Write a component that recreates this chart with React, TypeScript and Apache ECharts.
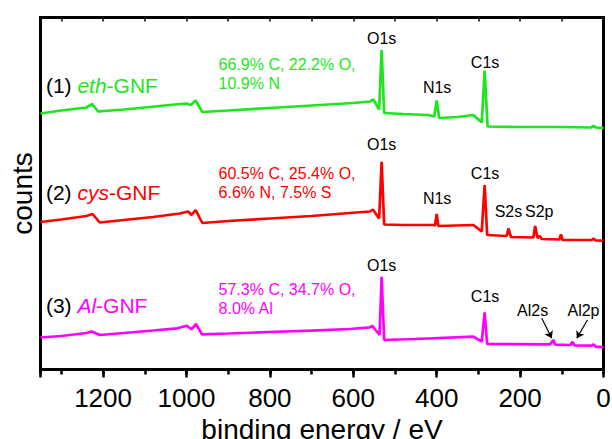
import React, { useEffect, useRef } from "react";
import * as echarts from "echarts";

// ---- data (binding energy in eV, counts in arbitrary offset units) ----
const ethBE = [1350, 1300, 1240, 1226, 1212, 1150, 1100, 1040, 1000, 990, 978, 962, 900, 800, 700, 600, 560, 552, 538, 532, 526, 480, 420, 406, 400, 394, 350, 312, 292, 285, 278, 200, 100, 30, 24, 18, 0];
const ethCounts = [256, 259, 262, 265.5, 258, 260, 262, 264.5, 266, 264.5, 269, 257.5, 259, 261.5, 264, 266.5, 268, 270, 260, 319.5, 256.5, 255.5, 254.5, 253, 269, 251.5, 252.5, 254.5, 247, 299, 243, 242.5, 242.5, 242, 243.5, 242, 241.5];

const cysBE = [1350, 1300, 1240, 1225, 1208, 1150, 1080, 1016, 996, 988, 978, 962, 900, 800, 700, 608, 560, 553, 538, 532, 526, 480, 408, 404, 400, 396, 312, 292, 285, 279, 232, 228, 222, 168, 164, 158, 153, 148, 106, 102, 98, 28, 24, 19, 0];
const cysCounts = [147.5, 150, 153.5, 155.5, 147, 149.5, 152.5, 156, 158, 154.5, 159.5, 146.5, 148.5, 151, 153.5, 156.5, 158, 160, 151, 207.8, 145, 144.5, 144.5, 144, 155.5, 143.5, 144.5, 138, 184.5, 134.5, 133.5, 141, 132.5, 132, 143.5, 131.5, 133.5, 130.5, 130, 135, 129.5, 129.5, 131, 129, 128.8];

const alBE = [1350, 1300, 1240, 1227, 1208, 1150, 1080, 1022, 999, 988, 977, 963, 900, 800, 700, 608, 560, 554, 537, 532, 526, 450, 312, 292, 285, 279, 128, 120, 116, 79, 74, 70, 28, 24, 19, 0];
const alCounts = [32, 33.5, 36.5, 38, 34.5, 36.5, 39, 41.2, 43.8, 40.2, 45.5, 35.2, 36, 37.5, 38.8, 40.5, 42.2, 43.5, 34.5, 92.8, 29.5, 30.5, 32.8, 27.8, 57.2, 25.5, 25.2, 29.5, 24.8, 24.5, 27.8, 24.2, 23.8, 25.2, 22.8, 22.2];

// peak annotations
const ethPeakNames = ["O1s", "N1s", "C1s"];
const ethPeakBE = [532, 399, 284];
const ethPeakY = [331, 282, 307];

const cysPeakNames = ["O1s", "N1s", "C1s", "S2s", "S2p"];
const cysPeakBE = [532, 399, 284, 228, 154];
const cysPeakY = [225.5, 171, 196, 158, 158];

const alPeakNames = ["O1s", "C1s", "Al2s", "Al2p"];
const alPeakBE = [532, 284, 170, 48];
const alPeakY = [104.5, 73, 59.5, 59.5];

// sample names and compositions
const sampleNumbers = ["(1) ", "(2) ", "(3) "];
const samplePrefixes = ["eth", "cys", "Al"];
const compositions = [
  "66.9% C, 22.2% O,\n10.9% N",
  "60.5% C, 25.4% O,\n6.6% N, 7.5% S",
  "57.3% C, 34.7% O,\n8.0% Al",
];
const sampleLabelY = [284.5, 177, 64.5];
const compositionY = [295.5, 186.5, 70.7];

const xTicks = [0, 200, 400, 600, 800, 1000, 1200];

const colors = ["#1de61d", "#ff0000", "#ff00ff"];
const FONT = "'Liberation Sans', Arial, sans-serif";

function zip(a: number[], b: number[]) {
  return a.map((v, i) => [v, b[i]]);
}

function peakData(names: string[], be: number[], ys: number[]) {
  return names.map((n, i) => ({
    coord: [be[i], ys[i]],
    value: n,
    label: { formatter: n },
  }));
}

export default function App() {
  const ref = useRef<HTMLDivElement>(null);

  useEffect(() => {
    if (!ref.current) return;
    const chart = echarts.init(ref.current, undefined, { renderer: "svg" });

    const spectra = [zip(ethBE, ethCounts), zip(cysBE, cysCounts), zip(alBE, alCounts)];
    const peaks = [
      peakData(ethPeakNames, ethPeakBE, ethPeakY),
      peakData(cysPeakNames, cysPeakBE, cysPeakY),
      peakData(alPeakNames, alPeakBE, alPeakY),
    ];

    const series: any[] = spectra.map((data, k) => {
      const c = colors[k];
      const sampleLabel = {
        coord: [1337, sampleLabelY[k]],
        value: samplePrefixes[k],
        label: {
          align: "left",
          formatter: `{n|${sampleNumbers[k]}}{i|${samplePrefixes[k]}}{s|-GNF}`,
          rich: {
            n: { color: "#000", fontSize: 21, fontFamily: FONT },
            i: { color: c, fontSize: 21, fontStyle: "italic", fontFamily: FONT },
            s: { color: c, fontSize: 21, fontFamily: FONT },
          },
        },
      };
      const compLabel = {
        coord: [923, compositionY[k]],
        value: compositions[k],
        label: {
          align: "left",
          formatter: compositions[k],
          color: c,
          fontSize: 16,
          lineHeight: 19,
          fontFamily: FONT,
        },
      };
      const s: any = {
        type: "line",
        data,
        showSymbol: false,
        symbol: "none",
        lineStyle: { color: c, width: 2.7 },
        itemStyle: { color: c },
        silent: true,
        z: 3,
        markPoint: {
          symbol: "circle",
          symbolSize: 1,
          silent: true,
          itemStyle: { color: "rgba(0,0,0,0)" },
          label: {
            show: true,
            position: "inside",
            color: "#000",
            fontSize: 16,
            fontFamily: FONT,
          },
          data: [...peaks[k], sampleLabel, compLabel],
        },
      };
      if (k === 2) {
        s.markLine = {
          silent: true,
          symbol: ["none", "arrow"],
          symbolSize: 7,
          label: { show: false },
          lineStyle: { color: "#000", width: 1.2, type: "solid" },
          data: [
            [{ coord: [148, 51.2] }, { coord: [124, 31.2] }],
            [{ coord: [38.6, 49.5] }, { coord: [64, 31.2] }],
          ],
        };
      }
      return s;
    });

    chart.setOption({
      animation: false,
      grid: {
        left: 40.5,
        right: 8.5,
        top: 17.5,
        bottom: 69.5,
        show: true,
        borderColor: "#000",
        borderWidth: 3,
        backgroundColor: "transparent",
        containLabel: false,
        outerBoundsMode: "none",
      },
      xAxis: [
        {
          type: "value",
          min: 0,
          max: 1350,
          interval: 200,
          inverse: true,
          position: "bottom",
          name: "binding energy / eV",
          nameLocation: "middle",
          nameGap: 33,
          nameTextStyle: { fontSize: 28, color: "#000", fontFamily: FONT },
          axisLine: { show: false },
          axisTick: { show: true, length: 8, lineStyle: { color: "#000", width: 2.5 } },
          axisLabel: {
            show: true,
            margin: 15,
            fontSize: 26,
            color: "#000",
            fontFamily: FONT,
            customValues: xTicks,
            formatter: (v: number) => String(v),
          },
          splitLine: { show: false },
        },
        {
          type: "value",
          min: 0,
          max: 1350,
          interval: 100,
          inverse: true,
          position: "bottom",
          axisLine: { show: false },
          axisTick: { show: true, length: 5, lineStyle: { color: "#000", width: 2.5 } },
          axisLabel: { show: false },
          splitLine: { show: false },
        },
        {
          type: "value",
          min: 0,
          max: 1350,
          interval: 100,
          inverse: true,
          position: "top",
          axisLine: { show: false },
          axisTick: { show: true, inside: true, length: 4, lineStyle: { color: "#000", width: 1.5 } },
          axisLabel: { show: false },
          splitLine: { show: false },
        },
      ],
      yAxis: {
        type: "value",
        min: 0,
        max: 352,
        name: "counts",
        nameLocation: "middle",
        nameRotate: 90,
        nameGap: 4,
        nameTextStyle: { fontSize: 28, color: "#000", fontFamily: FONT },
        axisLine: { show: false },
        axisTick: { show: false },
        axisLabel: { show: false },
        splitLine: { show: false },
      },
      series,
    });

    return () => chart.dispose();
  }, []);

  return (
    <div
      ref={ref}
      style={{ position: "fixed", left: 0, top: 0, width: 612, height: 439, background: "#fff" }}
    />
  );
}
